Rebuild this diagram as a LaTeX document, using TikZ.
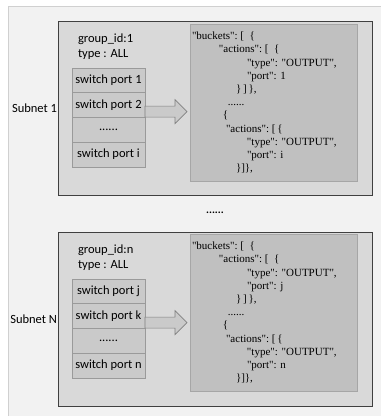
\documentclass[tikz,border=0pt]{standalone}
\usepackage{fontspec}
\setmainfont{Liberation Serif}[Ligatures=TeXOff]
\newfontfamily\calibri{Carlito}
\usetikzlibrary{positioning,calc}
\definecolor{pagebg}{HTML}{F2F2F2}
\definecolor{framegray}{HTML}{D0D0D0}
\definecolor{subnetfill}{HTML}{D9D9D9}
\definecolor{subnetline}{HTML}{404040}
\definecolor{jsonfill}{HTML}{C0C0C0}
\definecolor{jsonline}{HTML}{A6A6A6}
\definecolor{portfill}{HTML}{CACACA}
\definecolor{portline}{HTML}{9A9A9A}
\definecolor{arrowline}{HTML}{808080}

\begin{document}
\begin{tikzpicture}[x=1pt,y=-1pt]
\tikzstyle{every node}=[inner sep=0pt,outer sep=0pt]
\tikzstyle{subnet}=[rectangle,draw=subnetline,fill=subnetfill,line width=1pt,anchor=north west,minimum width=314pt,minimum height=174pt]
\tikzstyle{json}=[rectangle,draw=jsonline,fill=jsonfill,line width=0.8pt,anchor=north west,minimum width=167pt,minimum height=157pt]
\tikzstyle{port}=[rectangle,draw=portline,fill=portfill,line width=0.6pt,minimum width=73pt,minimum height=24.75pt,font=\calibri\fontsize{12.5}{14}\selectfont]
\tikzstyle{txt}=[anchor=west,font=\calibri\fontsize{12.5}{14}\selectfont]
\tikzstyle{code}=[anchor=north west,align=left,font=\fontsize{11}{13.2}\selectfont]
\tikzstyle{bigarrow}=[draw=arrowline,fill=portfill,line width=0.6pt]

\useasboundingbox (0,0) rectangle (381,416);
\fill[white] (0,0) rectangle (381,416);
\draw[framegray,fill=pagebg] (8,6) rectangle (384,419);

\begin{scope}
\node[subnet] (box1) at (58,21) {};
\node[json] (json1) at (190,24) {};
\node[txt,anchor=east,inner sep=1pt] (sub1) at (box1.west |- 0,108) {Subnet 1};
\node[txt] (gid1) at (78,39) {group\_id:1};
\node[txt] (type1) at (78,54) {type : ALL};
\node[port,anchor=north west] (p11) at (72,68) {switch port 1};
\node[port,below=0pt of p11] (p12) {switch port 2};
\node[port,below=0pt of p12] (p13) {......};
\node[port,below=0pt of p13] (p14) {switch port i};
\coordinate (a1) at ($(p12.east)+(0,6.5)$);
\coordinate (t1) at ($(a1 -| json1.west)+(-3,0)$);
\draw[bigarrow] ($(a1)+(0,-5.5)$) -- ($(t1)+(-12,-5.5)$) -- ($(t1)+(-12,-12)$)
  -- (t1) -- ($(t1)+(-12,12)$) -- ($(t1)+(-12,5.5)$) -- ($(a1)+(0,5.5)$) -- cycle;
\node[code] (c1) at (192,32) {"buckets":\ [\ \ \{\\
\hspace*{27pt}"actions":\ [\ \ \{\\
\hspace*{55pt}"type": "OUTPUT",\\
\hspace*{55pt}"port": 1\\
\hspace*{44pt}\}\,]\,\},\\
\hspace*{36pt}......\\
\hspace*{31pt}\{\\
\hspace*{34pt}"actions":\ [\,\{\\
\hspace*{55pt}"type": "OUTPUT",\\
\hspace*{55pt}"port": i\\
\hspace*{44pt}\}]\},};
\end{scope}

\node[font=\calibri\bfseries\fontsize{11}{13}\selectfont] (dots) at (215,213) {......};

\begin{scope}[shift={(0,211)}]
\node[subnet] (box2) at (58,21) {};
\node[json] (json2) at (190,23) {};
\node[txt,anchor=east,inner sep=1pt] (sub2) at (box2.west |- 0,108) {Subnet N};
\node[txt] (gid2) at (78,39) {group\_id:n};
\node[txt] (type2) at (78,54) {type : ALL};
\node[port,anchor=north west] (p21) at (72,68) {switch port j};
\node[port,below=0pt of p21] (p22) {switch port k};
\node[port,below=0pt of p22] (p23) {......};
\node[port,below=0pt of p23] (p24) {switch port n};
\coordinate (a2) at ($(p22.east)+(0,6.5)$);
\coordinate (t2) at ($(a2 -| json2.west)+(-3,0)$);
\draw[bigarrow] ($(a2)+(0,-5.5)$) -- ($(t2)+(-12,-5.5)$) -- ($(t2)+(-12,-12)$)
  -- (t2) -- ($(t2)+(-12,12)$) -- ($(t2)+(-12,5.5)$) -- ($(a2)+(0,5.5)$) -- cycle;
\node[code] (c2) at (192,31) {"buckets":\ [\ \ \{\\
\hspace*{27pt}"actions":\ [\ \ \{\\
\hspace*{55pt}"type": "OUTPUT",\\
\hspace*{55pt}"port": j\\
\hspace*{44pt}\}\,]\,\},\\
\hspace*{36pt}......\\
\hspace*{31pt}\{\\
\hspace*{34pt}"actions":\ [\,\{\\
\hspace*{55pt}"type": "OUTPUT",\\
\hspace*{55pt}"port": n\\
\hspace*{44pt}\}]\},};
\end{scope}
\end{tikzpicture}
\end{document}
